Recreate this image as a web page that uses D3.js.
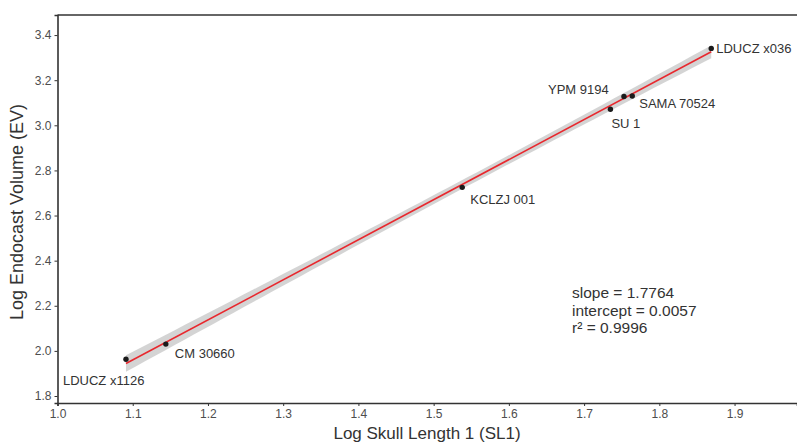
<!DOCTYPE html>
<html>
<head>
<meta charset="utf-8">
<script src="https://cdn.jsdelivr.net/npm/d3@7"></script>
<style>
  body { margin: 0; background: #fff; }
  text { font-family: Arial, 'Liberation Sans', sans-serif; }
</style>
</head>
<body>
<svg id="chart" width="797" height="443"></svg>
<script>
// specimens
const specimens = ['LDUCZ x1126', 'CM 30660', 'KCLZJ 001', 'SU 1', 'YPM 9194', 'SAMA 70524', 'LDUCZ x036'];
const logSL1 = [1.091, 1.144, 1.538, 1.735, 1.753, 1.764, 1.869];
const logEV = [1.963, 2.030, 2.725, 3.071, 3.128, 3.130, 3.341];

// fit stats printed on the chart
const slope = 1.7764;
const intercept = 0.0057;
const r2 = 0.9996;
const bandSE = 0.02; // residual se used for the grey ribbon

const xTicks = [1.0, 1.1, 1.2, 1.3, 1.4, 1.5, 1.6, 1.7, 1.8, 1.9];
const yTicks = [1.8, 2.0, 2.2, 2.4, 2.6, 2.8, 3.0, 3.2, 3.4];

// label nudges in px (dx, dy from the point)
const labelNudge = [[-63, 26], [9, 14], [8, 17], [1, 19], [-76, -2], [7, 12], [5, 5]];

const svg = d3.select('#chart');
const margin = { left: 57.5, top: 15, right: 0, bottom: 40 };
const W = 797, H = 443;

const x = d3.scaleLinear().domain([1.0, 1.983]).range([margin.left, W]);
const y = d3.scaleLinear().domain([1.769, 3.489]).range([403, margin.top]);

const textCol = '#4d4d4d';

// confidence ribbon
const n = logSL1.length;
const xbar = d3.mean(logSL1);
const sxx = d3.sum(logSL1, v => (v - xbar) ** 2);
const tval = 2.571;
const xs = d3.range(0, 61).map(i => d3.min(logSL1) + (d3.max(logSL1) - d3.min(logSL1)) * i / 60);
const band = xs.map(v => {
  const fit = intercept + slope * v;
  const h = tval * bandSE * Math.sqrt(1 / n + (v - xbar) ** 2 / sxx);
  return { v, lo: fit - h, hi: fit + h };
});

svg.append('path')
  .datum(band)
  .attr('d', d3.area().x(d => x(d.v)).y0(d => y(d.lo)).y1(d => y(d.hi)))
  .attr('fill', '#cfcfcf')
  .attr('opacity', 0.9);

svg.append('line')
  .attr('x1', x(d3.min(logSL1))).attr('y1', y(intercept + slope * d3.min(logSL1)))
  .attr('x2', x(d3.max(logSL1))).attr('y2', y(intercept + slope * d3.max(logSL1)))
  .attr('stroke', '#e8282e')
  .attr('stroke-width', 1.6);

// points
svg.append('g').selectAll('circle')
  .data(specimens)
  .join('circle')
  .attr('cx', (d, i) => x(logSL1[i]))
  .attr('cy', (d, i) => y(logEV[i]))
  .attr('r', 2.7)
  .attr('fill', '#1a1a1a');

svg.append('g').selectAll('text')
  .data(specimens)
  .join('text')
  .attr('x', (d, i) => x(logSL1[i]) + labelNudge[i][0])
  .attr('y', (d, i) => y(logEV[i]) + labelNudge[i][1])
  .attr('font-size', 13)
  .attr('fill', '#333')
  .text(d => d);

// axes
const xAxis = svg.append('g')
  .attr('transform', 'translate(0,403)')
  .call(d3.axisBottom(x).tickValues(xTicks).tickFormat(d3.format('.1f')).tickSize(3).tickPadding(3));
const yAxis = svg.append('g')
  .attr('transform', `translate(${margin.left},0)`)
  .call(d3.axisLeft(y).tickValues(yTicks).tickFormat(d3.format('.1f')).tickSize(3).tickPadding(3));

[xAxis, yAxis].forEach(g => {
  g.select('.domain').attr('stroke', '#333').attr('stroke-width', 1.6);
  g.selectAll('.tick line').attr('stroke', '#333');
  g.selectAll('.tick text').attr('font-size', 12).attr('fill', textCol).style('font-family', 'Arial, "Liberation Sans", sans-serif');
});

// top border
svg.append('line')
  .attr('x1', margin.left).attr('x2', W)
  .attr('y1', margin.top).attr('y2', margin.top)
  .attr('stroke', '#333').attr('stroke-width', 1.6);

// axis titles
svg.append('text')
  .attr('x', 427).attr('y', 439)
  .attr('text-anchor', 'middle')
  .attr('font-size', 17)
  .attr('fill', '#333')
  .text('Log Skull Length 1 (SL1)');

svg.append('text')
  .attr('transform', 'translate(23,212) rotate(-90)')
  .attr('text-anchor', 'middle')
  .attr('font-size', 18)
  .attr('fill', '#333')
  .text('Log Endocast Volume (EV)');

// fit stats
const stats = [`slope = ${slope.toFixed(4)}`, `intercept = ${intercept.toFixed(4)}`, `r² = ${r2.toFixed(4)}`];
svg.append('g').selectAll('text')
  .data(stats)
  .join('text')
  .attr('x', 572)
  .attr('y', (d, i) => 298 + i * 17.5)
  .attr('font-size', 15.5)
  .attr('fill', '#333')
  .text(d => d);
</script>
</body>
</html>
